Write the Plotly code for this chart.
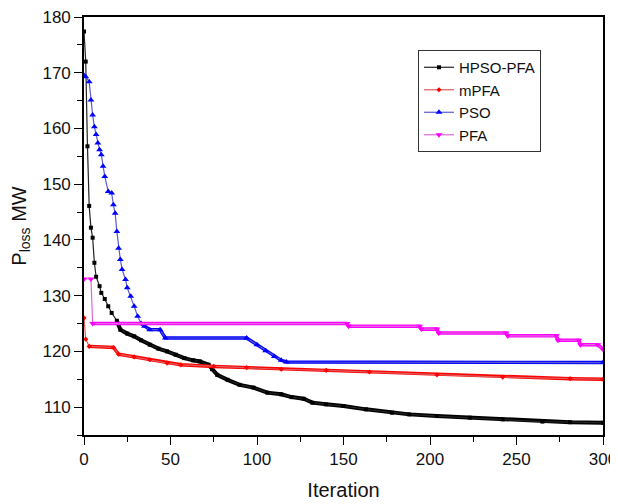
import plotly.graph_objects as go

# ---- data ----
series_names = ["HPSO-PFA", "mPFA", "PSO", "PFA"]

hpso_iter = [0, 1, 2, 3, 4, 5, 6, 7, 9, 10, 12, 14, 16, 19, 21, 25, 29, 33, 38, 43,
             48, 53, 58, 63, 67, 72, 74, 77, 83, 90, 98, 106, 114, 120, 127, 132, 140, 150, 163, 178,
             188, 204, 223, 242, 265, 281, 300]
hpso_loss = [177.4, 172.0, 156.8, 146.1, 142.2, 140.4, 135.9, 133.4, 131.7, 130.5,
             129.4, 128.1, 126.9, 125.5, 123.9, 123.2, 122.7, 122.0, 121.2, 120.5,
             120.0, 119.4, 118.8, 118.4, 118.2, 117.6, 116.8, 115.8, 114.9, 114.0,
             113.5, 112.6, 112.3, 111.8, 111.5, 110.8, 110.5, 110.2, 109.6, 109.0,
             108.7, 108.4, 108.1, 107.8, 107.4, 107.3, 107.2]

mpfa_iter = [0, 1, 3, 17, 20, 29, 38, 48, 56, 75, 94, 114, 140, 165, 204, 242, 281, 300]
mpfa_loss = [126.0, 122.2, 120.9, 120.7, 119.5, 119.0, 118.5, 117.9, 117.6, 117.3,
             117.1, 116.8, 116.6, 116.3, 115.8, 115.4, 115.1, 115.0]

pso_iter = [0, 1, 3, 4, 5, 6, 7, 8, 9, 10, 11, 12, 14, 16, 17, 18, 19, 20, 21, 22,
            24, 25, 27, 29, 31, 33, 35, 38, 44, 47, 94, 100, 105, 110, 114, 117, 300]
pso_loss = [169.5, 169.3, 168.4, 165.1, 162.4, 160.3, 158.9, 157.4, 156.2, 155.3,
            153.2, 151.4, 148.7, 148.4, 146.3, 144.8, 141.5, 138.5, 136.5, 134.7,
            132.9, 131.4, 129.9, 128.1, 126.3, 125.0, 124.5, 123.9, 123.9, 122.4,
            122.4, 121.2, 120.1, 119.1, 118.4, 118.1, 118.0]

pfa_iter = [0, 4, 5, 152, 153, 194, 195, 204, 205, 244, 245, 273, 274, 286, 287, 297, 300]
pfa_loss = [133.0, 133.0, 125.0, 125.0, 124.5, 124.5, 124.0, 124.0, 123.3, 123.3,
            122.8, 122.8, 122.0, 122.0, 121.2, 121.2, 120.4]

x_ticks = [0, 50, 100, 150, 200, 250, 300]
y_ticks = [110, 120, 130, 140, 150, 160, 170, 180]

# ---- styling ----
styles = [
    dict(line="#222222", marker="#000000", symbol="square", msize=4, split=13, tailw=4.0),
    dict(line="#e05a5a", marker="#ff0000", symbol="diamond", msize=4, split=2, tailw=3.4),
    dict(line="#5a5ad2", marker="#0000ff", symbol="triangle-up", msize=6, split=25, tailw=3.4),
    dict(line="#e066e0", marker="#ff00ff", symbol="triangle-down", msize=6, split=2, tailw=3.6),
]
data = [(hpso_iter, hpso_loss), (mpfa_iter, mpfa_loss), (pso_iter, pso_loss), (pfa_iter, pfa_loss)]

FONT = "Liberation Sans, Arial, sans-serif"
fig = go.Figure()

for name, (xs, ys), st in zip(series_names, data, styles):
    k = st["split"]
    fig.add_trace(go.Scatter(
        x=xs[k:], y=ys[k:], mode="lines", showlegend=False, hoverinfo="skip",
        line=dict(color=st["marker"], width=st["tailw"]),
    ))
    fig.add_trace(go.Scatter(
        x=xs, y=ys, mode="lines+markers", name=name,
        line=dict(color=st["line"], width=1.2),
        marker=dict(color=st["marker"], symbol=st["symbol"], size=st["msize"], line=dict(width=0)),
    ))

axis_common = dict(
    showgrid=False, zeroline=False, showline=True, linecolor="black", linewidth=1.6,
    mirror=True, ticks="outside", ticklen=8, tickwidth=1.3, tickcolor="black",
    tickfont=dict(family=FONT, size=17, color="#111111"), automargin=False,
    ticklabeloverflow="allow",
)

fig.update_xaxes(
    range=[0, 300], tickvals=x_ticks, ticktext=[str(v) for v in x_ticks],
    minor=dict(dtick=25, tick0=0, ticks="outside", ticklen=5, tickwidth=1.2, tickcolor="black"),
    title=dict(text="Iteration", font=dict(family=FONT, size=20, color="#111111")),
    **axis_common,
)
fig.update_yaxes(
    range=[105, 180], tickvals=y_ticks, ticktext=[str(v) for v in y_ticks],
    minor=dict(dtick=5, tick0=105, ticks="outside", ticklen=5, tickwidth=1.2, tickcolor="black"),
    title=dict(text="P<sub>loss</sub> MW", font=dict(family=FONT, size=20, color="#111111")),
    **axis_common,
)

fig.update_layout(
    width=610, height=496,
    margin=dict(l=76, r=15, t=9, b=69),
    paper_bgcolor="white", plot_bgcolor="white",
    font=dict(family=FONT, color="#111111"),
    legend=dict(
        x=0.6435, y=0.921, xanchor="left", yanchor="top",
        bgcolor="white", bordercolor="#333333", borderwidth=1,
        font=dict(family=FONT, size=15, color="#111111"),
        itemwidth=30, tracegroupgap=0,
    ),
)

fig.write_html("out.html")
